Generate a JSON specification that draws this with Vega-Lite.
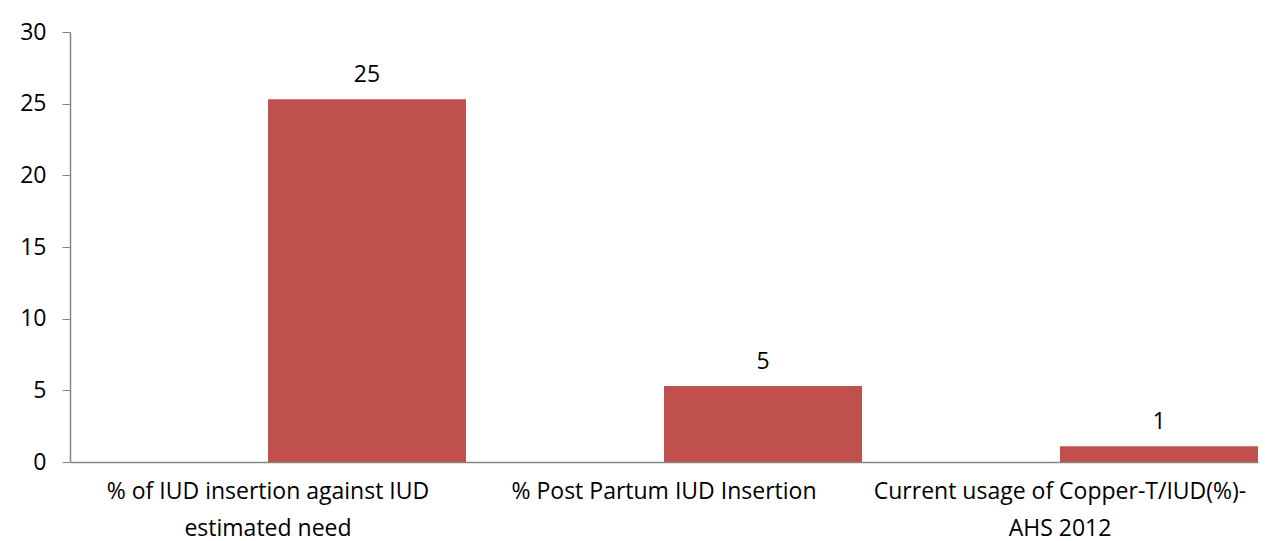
{
  "$schema": "https://vega.github.io/schema/vega-lite/v6.json",
  "width": 1188,
  "height": 430,
  "padding": {"left": 70, "top": 32, "right": 7, "bottom": 79},
  "autosize": {"type": "none"},
  "background": "white",
  "data": {
    "values": [
      {"category": "% of IUD insertion against IUD|estimated need", "series": "value", "value": 25.3},
      {"category": "% Post Partum IUD Insertion", "series": "value", "value": 5.3},
      {"category": "Current usage of Copper-T/IUD(%)-|AHS 2012", "series": "value", "value": 1.1}
    ]
  },
  "encoding": {
    "x": {
      "field": "category",
      "type": "nominal",
      "sort": null,
      "scale": {"paddingInner": 0, "paddingOuter": 0},
      "axis": {
        "title": null,
        "labelAngle": 0,
        "labelExpr": "split(datum.label, '|')",
        "labelFont": "Open Sans",
        "labelFontSize": 23,
        "labelColor": "#000000",
        "labelPadding": 18,
        "labelLineHeight": 37,
        "labelBaseline": "top",
        "labelLimit": 0,
        "labelOverlap": false,
        "ticks": false,
        "domainColor": "#868686",
        "domainWidth": 1.5,
        "grid": false
      }
    },
    "xOffset": {
      "field": "series",
      "type": "nominal",
      "scale": {"domain": ["blank", "value"], "paddingInner": 0, "paddingOuter": 0}
    },
    "y": {
      "field": "value",
      "type": "quantitative",
      "scale": {"domain": [0, 30], "nice": false},
      "axis": {
        "title": null,
        "values": [0, 5, 10, 15, 20, 25, 30],
        "grid": false,
        "labelFont": "Open Sans",
        "labelFontSize": 23,
        "labelColor": "#000000",
        "labelPadding": 16,
        "tickSize": 8,
        "tickColor": "#868686",
        "domainColor": "#868686",
        "domainWidth": 1.5
      }
    }
  },
  "layer": [
    {"mark": {"type": "bar", "color": "#c0504d"}},
    {
      "mark": {"type": "text", "font": "Open Sans", "fontSize": 23, "color": "#000000", "baseline": "bottom", "dy": -12},
      "encoding": {"text": {"field": "value", "type": "quantitative", "format": ".0f"}}
    }
  ],
  "config": {"view": {"stroke": null}}
}
